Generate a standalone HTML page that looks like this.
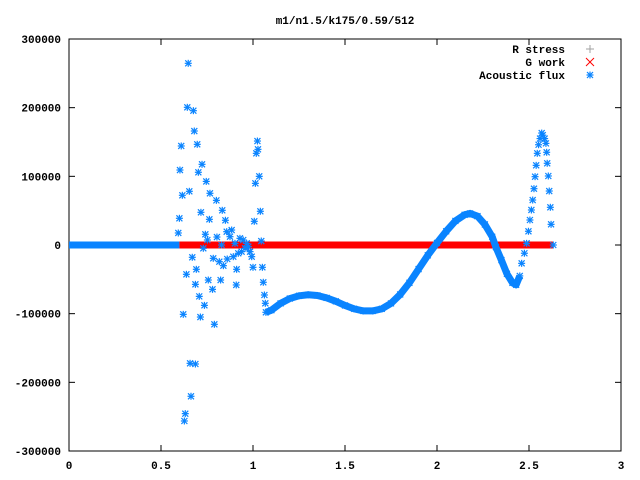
<!DOCTYPE html>
<html><head><meta charset="utf-8"><style>
body{margin:0;background:#fff}
svg{display:block;font-family:"Liberation Mono",monospace;font-size:11px;font-weight:bold}
</style></head><body>
<svg id="c" width="640" height="480">
<text x="345" y="24" text-anchor="middle">m1/n1.5/k175/0.59/512</text>
<g id="axes"></g>
<g id="series"></g>
<g id="legend"></g>
</svg>
<script>
const xTicks=[0,0.5,1,1.5,2,2.5,3];
const xTickLabels=["0","0.5","1","1.5","2","2.5","3"];
const yTicks=[-300000,-200000,-100000,0,100000,200000,300000];
const yTickLabels=["-300000","-200000","-100000","0","100000","200000","300000"];
const fluxFlatRange=[0,0.6];
const gWorkRange=[0.6,2.63];
const scatterX=[0.648,0.643,0.676,0.681,0.610,0.697,0.603,0.723,0.703,0.746,0.616,0.654,0.766,0.801,0.717,0.833,0.600,0.763,0.850,0.594,0.741,0.752,0.804,0.730,0.829,0.670,0.784,0.817,0.860,0.692,0.911,0.638,0.839,0.687,0.757,0.824,0.780,0.708,0.736,0.621,0.714,0.790,0.658,0.687,0.663,0.632,0.627,1.024,1.027,1.018,1.034,1.013,1.040,1.007,1.045,1.051,1.056,1.062,1.067,1.0,0.993,0.909,0.857,0.884,0.875,0.902,0.929,0.947,0.966,0.975,0.938,0.920,0.893,0.957,0.984];
const scatterY=[264600,200500,195600,166000,144200,146600,109200,117500,105900,92600,72400,78200,75300,65000,47600,50500,38900,37400,36000,17500,15600,7300,11600,-4800,0,-17900,-19400,-24300,-20400,-35400,-35400,-42700,-30100,-57300,-51000,-51000,-64600,-74800,-87900,-101000,-104900,-115500,-172300,-173300,-220300,-245600,-256300,151400,139300,133500,100000,89800,49100,34500,5800,-32500,-54300,-72800,-84900,-32500,-17000,-58200,19400,21800,12100,2400,9700,7300,2400,-2400,-9700,-12100,-17000,-4800,-9700];
const curveX=[1.07,1.10,1.15,1.2,1.25,1.3,1.35,1.4,1.45,1.5,1.55,1.6,1.65,1.7,1.75,1.8,1.85,1.9,1.95,2.0,2.05,2.1,2.15,2.18,2.22,2.26,2.3,2.32,2.35,2.38,2.41,2.43,2.45];
const curveY=[-98000,-95000,-85000,-78000,-74000,-72500,-73500,-77000,-82000,-88000,-93000,-96000,-96000,-93000,-85000,-72000,-55000,-35000,-15000,3000,20000,35000,44000,46000,42000,30000,12000,-3000,-22000,-42000,-55000,-58000,-45000];
const tailX=[2.46,2.475,2.487,2.497,2.505,2.513,2.52,2.527,2.533,2.539,2.545,2.552,2.56,2.569,2.575,2.585,2.592,2.596,2.599,2.605,2.61,2.616,2.62,2.632];
const tailY=[-26700,-12000,2400,20000,36400,51000,65500,82000,99500,116000,133500,146000,155000,163000,160000,155000,148000,135000,119000,100500,78600,54900,30100,0];

const NS="http://www.w3.org/2000/svg";
const L=69,R=621,T=39,B=451;
const sx=v=>L+(v-0)/3*(R-L);
const sy=v=>B-(v+300000)/600000*(B-T);
function el(tag,attrs,parent){const e=document.createElementNS(NS,tag);for(const k in attrs)e.setAttribute(k,attrs[k]);parent.appendChild(e);return e;}
const axes=document.getElementById('axes'),series=document.getElementById('series'),legend=document.getElementById('legend');
const frame=el('rect',{x:L,y:T,width:R-L,height:B-T,fill:'none',stroke:'#000','stroke-width':1},axes);


xTicks.forEach((v,i)=>{const x=sx(v);
 el('line',{x1:x,y1:B,x2:x,y2:B-6,stroke:'#000'},axes);el('line',{x1:x,y1:T,x2:x,y2:T+6,stroke:'#000'},axes);
 const t=el('text',{x:x,y:B+18,'text-anchor':'middle'},axes);t.textContent=xTickLabels[i];
 
 });
yTicks.forEach((v,i)=>{const y=sy(v);
 el('line',{x1:L,y1:y,x2:L+6,y2:y,stroke:'#000'},axes);el('line',{x1:R,y1:y,x2:R-6,y2:y,stroke:'#000'},axes);
 const t=el('text',{x:61,y:y+4,'text-anchor':'end'},axes);t.textContent=yTickLabels[i];
 
 });
const BLUE='#0a84ff',RED='#ff0000';
function star(x,y,c,p){const g=el('g',{stroke:c,'stroke-width':1.2},p);
 el('line',{x1:x-3.5,y1:y,x2:x+3.5,y2:y},g);el('line',{x1:x,y1:y-3.5,x2:x,y2:y+3.5},g);
 el('line',{x1:x-3,y1:y-3,x2:x+3,y2:y+3},g);el('line',{x1:x-3,y1:y+3,x2:x+3,y2:y-3},g);return g;}
const flat=el('line',{x1:sx(fluxFlatRange[0]),y1:sy(0),x2:sx(fluxFlatRange[1]),y2:sy(0),stroke:BLUE,'stroke-width':7},series);


const red=el('line',{x1:sx(gWorkRange[0]),y1:sy(0),x2:sx(gWorkRange[1]),y2:sy(0),stroke:RED,'stroke-width':7},series);


const pl=el('polyline',{points:curveX.map((x,i)=>sx(x)+','+sy(curveY[i])).join(' '),fill:'none',stroke:BLUE,'stroke-width':7,'stroke-linejoin':'round'},series);


curveX.forEach((x,i)=>{const s=star(sx(x),sy(curveY[i]),BLUE,series);
 
 });
tailX.forEach((x,i)=>{const s=star(sx(x),sy(tailY[i]),BLUE,series);
 
 });
scatterX.forEach((x,i)=>{const s=star(sx(x),sy(scatterY[i]),BLUE,series);
 
 });
const leg=[["R stress","#a0a0a0"],["G work",RED],["Acoustic flux",BLUE]];
leg.forEach((d,i)=>{const y=49+i*13;
 const t=el('text',{x:565,y:y+4,'text-anchor':'end'},legend);t.textContent=d[0];
 
 
 const g=el('g',{stroke:d[1],'stroke-width':1},legend);
 if(i===0){el('line',{x1:586,y1:y,x2:594,y2:y},g);el('line',{x1:590,y1:y-4,x2:590,y2:y+4},g);}
 else if(i===1){el('line',{x1:586,y1:y-4,x2:594,y2:y+4},g);el('line',{x1:586,y1:y+4,x2:594,y2:y-4},g);}
 else star(590,y,d[1],legend);});
</script>
</body></html>
